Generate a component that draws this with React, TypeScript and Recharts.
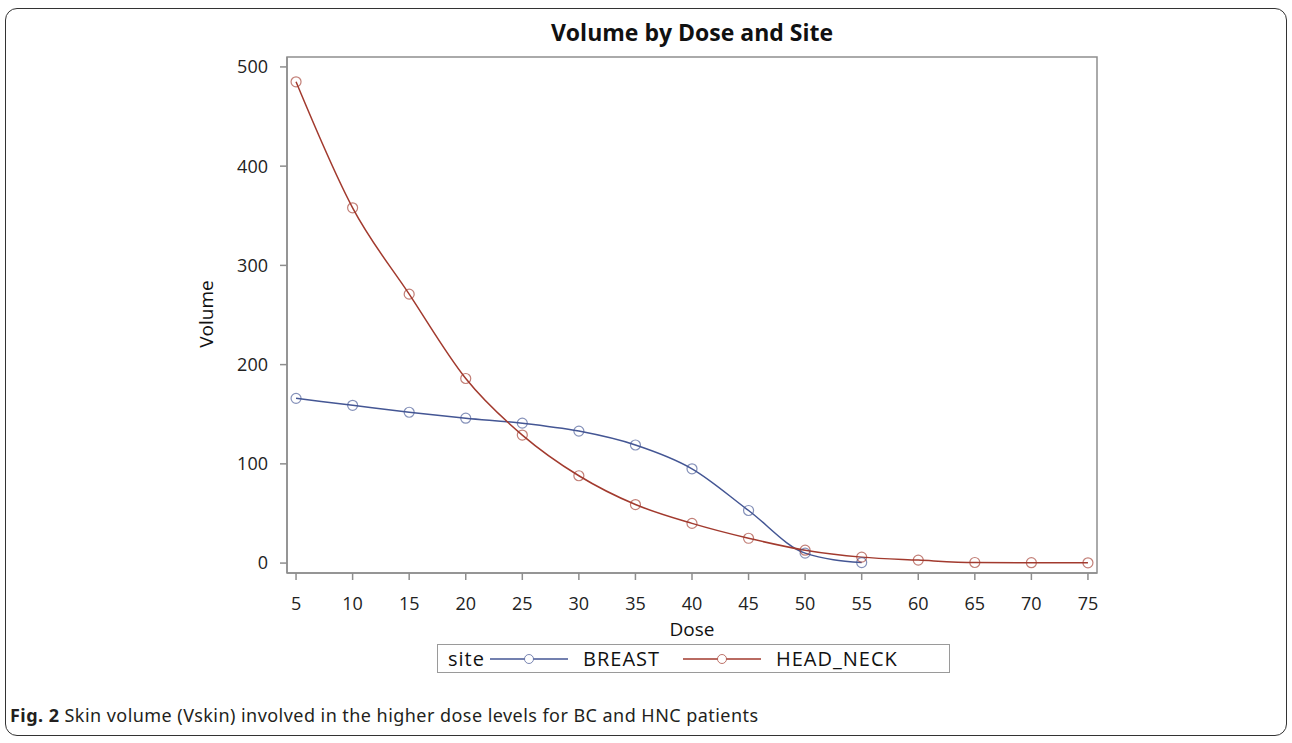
import { LineChart, Line, XAxis, YAxis, ReferenceArea } from "recharts";

const doses = [5, 10, 15, 20, 25, 30, 35, 40, 45, 50, 55, 60, 65, 70, 75];
const breast = [166, 159, 152, 146, 141, 133, 119, 95, 53, 10, 0.5];
const headNeck = [485, 358, 271, 186, 129, 88, 59, 40, 25, 13, 6, 3, 0.6, 0.4, 0.3];
const xTicks = [5, 10, 15, 20, 25, 30, 35, 40, 45, 50, 55, 60, 65, 70, 75];
const yTicks = [0, 100, 200, 300, 400, 500];

const BLUE = "#445694";
const RED = "#a23a2e";
const AXIS = "#8e8e8e";
const FONT = "'Open Sans', 'Liberation Sans', Arial, sans-serif";

const data = doses.map((d, i) => ({
  dose: d,
  breast: i < breast.length ? breast[i] : null,
  headNeck: headNeck[i],
}));

// legend layout, x relative to the box's left edge
function LegendSwatch({ color, left }: { color: string; left: number }) {
  return (
    <svg width={78} height={12} style={{ position: "absolute", left, top: 8 }}>
      <line x1={0} y1={6} x2={78} y2={6} stroke={color} strokeWidth={1.5} />
      <circle cx={39} cy={6} r={4.5} fill="#fff" stroke={color} strokeOpacity={0.7} />
    </svg>
  );
}

function LegendText({ text, left }: { text: string; left: number }) {
  return (
    <span
      style={{
        position: "absolute",
        left,
        top: 0,
        lineHeight: "27px",
        whiteSpace: "nowrap",
      }}
    >
      {text}
    </span>
  );
}

export default function App() {
  return (
    <div
      style={{
        position: "absolute",
        left: 0,
        top: 0,
        width: 1292,
        height: 743,
        background: "#fff",
      }}
    >
      <div
        style={{
          position: "absolute",
          left: 5,
          top: 8,
          width: 1282,
          height: 728,
          border: "1px solid #333",
          borderRadius: 12,
          boxSizing: "border-box",
        }}
      />
      <div
        style={{
          position: "absolute",
          top: 16,
          left: 0,
          width: 1384,
          textAlign: "center",
          fontFamily: FONT,
          fontWeight: "bold",
          fontSize: 23,
          color: "#111",
        }}
      >
        Volume by Dose and Site
      </div>
      <div style={{ position: "absolute", left: 0, top: 0 }}>
        <LineChart
          width={1292}
          height={743}
          data={data}
          margin={{ top: 57, right: 195, bottom: 140, left: 227 }}
        >
          <XAxis
            dataKey="dose"
            type="number"
            domain={[4.2, 75.8]}
            ticks={xTicks}
            allowDataOverflow
            stroke={AXIS}
            strokeWidth={1.5}
            tickSize={7}
            tickMargin={17}
            tick={{ fill: "#222", fontSize: 18, fontFamily: FONT }}
            height={30}
          />
          <YAxis
            type="number"
            domain={[-10, 510]}
            ticks={yTicks}
            allowDataOverflow
            stroke={AXIS}
            strokeWidth={1.5}
            tickSize={7}
            tickMargin={12}
            tick={{ fill: "#222", fontSize: 18, fontFamily: FONT }}
            width={60}
          />
          <ReferenceArea
            x1={4.2}
            x2={75.8}
            y1={-10}
            y2={510}
            fill="none"
            stroke={AXIS}
            strokeWidth={1.5}
            ifOverflow="visible"
          />
          <Line
            type="monotone"
            dataKey="breast"
            stroke={BLUE}
            strokeWidth={1.5}
            dot={{ r: 5, fill: "none", stroke: BLUE, strokeOpacity: 0.65, strokeWidth: 1.2 }}
            isAnimationActive={false}
            connectNulls={false}
          />
          <Line
            type="monotone"
            dataKey="headNeck"
            stroke={RED}
            strokeWidth={1.5}
            dot={{ r: 5, fill: "none", stroke: RED, strokeOpacity: 0.65, strokeWidth: 1.2 }}
            isAnimationActive={false}
          />
        </LineChart>
      </div>
      <div
        style={{
          position: "absolute",
          left: 692 - 50,
          top: 616,
          width: 100,
          textAlign: "center",
          fontFamily: FONT,
          fontSize: 19,
          color: "#111",
        }}
      >
        Dose
      </div>
      <div
        style={{
          position: "absolute",
          left: 206 - 50,
          top: 301,
          width: 100,
          textAlign: "center",
          fontFamily: FONT,
          fontSize: 19,
          color: "#111",
          transform: "rotate(-90deg)",
        }}
      >
        Volume
      </div>
      <div
        style={{
          position: "absolute",
          left: 437,
          top: 644,
          width: 513,
          height: 29,
          border: "1.5px solid #9a9a9a",
          boxSizing: "border-box",
          fontFamily: FONT,
          fontSize: 20,
          letterSpacing: 1,
          color: "#111",
        }}
      >
        <LegendText text="site" left={10} />
        <LegendSwatch color={BLUE} left={52} />
        <LegendText text="BREAST" left={145} />
        <LegendSwatch color={RED} left={245} />
        <LegendText text="HEAD_NECK" left={338} />
      </div>
      <div
        style={{
          position: "absolute",
          left: 10,
          top: 703,
          fontFamily: "'Noto Sans', sans-serif",
          fontSize: 18,
          letterSpacing: 0.45,
          color: "#231f20",
        }}
      >
        <b>Fig. 2</b> Skin volume (Vskin) involved in the higher dose levels for BC and HNC patients
      </div>
    </div>
  );
}
